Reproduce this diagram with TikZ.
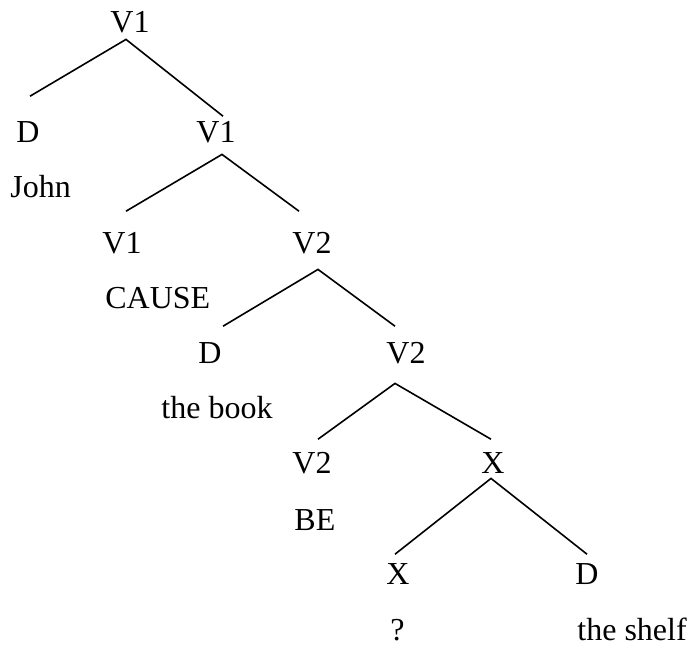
\documentclass[tikz,border=0pt]{standalone}
\usepackage{fontspec}
\setmainfont{Liberation Serif}

\begin{document}
\begin{tikzpicture}[x=0.5pt,y=-0.5pt,
  cat/.style={anchor=base, inner sep=0pt, text height=11.2pt, text depth=0pt},
  word/.style={anchor=base west, inner sep=0pt},
  branch/.style={line width=0.8pt}]

\useasboundingbox (0,0) rectangle (688,644);
\fontsize{16}{19}\selectfont

% === Category labels (one level every ~110px) ===
\node[cat] (v1a) at (130,32)  {V1};
\node[cat] (d1)  at (28,142)  {D};
\node[cat] (v1b) at (216,142) {V1};
\node[cat] (v1c) at (122,253) {V1};
\node[cat] (v2a) at (312,253) {V2};
\node[cat] (d2)  at (210,363) {D};
\node[cat] (v2b) at (406,363) {V2};
\node[cat] (v2c) at (312,473) {V2};
\node[cat] (xa)  at (493,473) {X};
\node[cat] (xb)  at (398,584) {X};
\node[cat] (d3)  at (587,584) {D};

% === Words under the terminals ===
\node[word] (john)  at (10,197)  {John};
\node[word] (cause) at (105,308) {CAUSE};
\node[word] (book)  at (161,418) {the book};
\node[word] (be)    at (294,530) {BE};
\node[word] (what)  at (390,640) {?};
\node[word] (shelf) at (577,640) {the shelf};

% === Branches ===
\draw[branch] ([shift={(2,-23)}]d1.north) -- ([shift={(-4,7)}]v1a.south) -- ([shift={(7,-3)}]v1b.north);
\draw[branch] ([shift={(4,-19)}]v1c.north) -- ([shift={(6,12)}]v1b.south) -- ([shift={(-13,-19)}]v2a.north);
\draw[branch] ([shift={(13,-14)}]d2.north) -- ([shift={(6,16)}]v2a.south) -- ([shift={(-11,-14)}]v2b.north);
\draw[branch] ([shift={(6,-11)}]v2c.north) -- ([shift={(-11,20)}]v2b.south) -- ([shift={(-2,-11)}]xa.north);
\draw[branch] ([shift={(-3,-7)}]xb.north) -- ([shift={(-2,5)}]xa.south) -- ([shift={(0,-7)}]d3.north);

\end{tikzpicture}
\end{document}
